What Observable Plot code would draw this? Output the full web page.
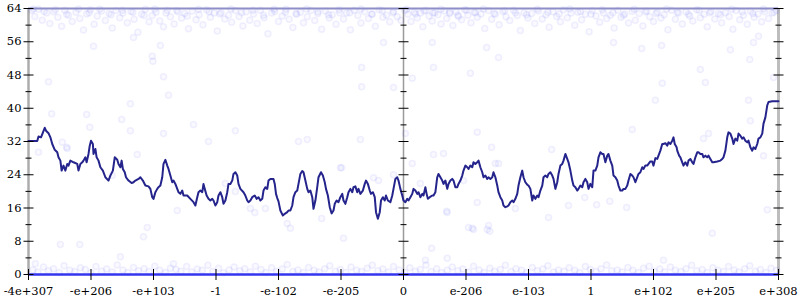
<!DOCTYPE html>
<html>
<head>
<meta charset="utf-8">
<script src="https://cdn.jsdelivr.net/npm/d3@7"></script>
<script src="https://cdn.jsdelivr.net/npm/@observablehq/plot@0.6"></script>
<style>
  html, body { margin: 0; padding: 0; background: #fff; }
  #chart svg { display: block; }
  #chart svg text { font-family: "DejaVu Serif", "Liberation Serif", serif !important; }
</style>
</head>
<body>
<div id="chart"></div>
<script>
// ---- tick labels ----
const xTickPos = [-6, -5, -4, -3, -2, -1, 0, 1, 2, 3, 4, 5, 6];
const xTickLabels = ["-4e+307", "-e+206", "-e+103", "-1", "-e-102", "-e-205", "0", "e-206", "e-103", "1", "e+102", "e+205", "e+308"];
const yMajor = [0, 8, 16, 24, 32, 40, 48, 56, 64];
const yMinor = [4, 12, 20, 28, 36, 44, 52, 60];
const axisAt = [-6, 0, 6];

// ---- running line ----
const walkX = [-6.00,-5.86,-5.84,-5.80,-5.74,-5.72,-5.68,-5.65,-5.62,-5.58,-5.54,-5.52,-5.49,-5.47,-5.44,-5.41,-5.38,-5.36,-5.33,-5.28,-5.22,-5.20,-5.17,-5.14,-5.12,-5.09,-5.07,-5.04,-5.02,-5.00,-4.97,-4.96,-4.93,-4.91,-4.88,-4.85,-4.81,-4.77,-4.72,-4.69,-4.65,-4.62,-4.58,-4.56,-4.53,-4.51,-4.49,-4.46,-4.44,-4.40,-4.35,-4.32,-4.29,-4.24,-4.21,-4.17,-4.13,-4.08,-4.05,-4.02,-4.00,
-3.97,-3.94,-3.92,-3.89,-3.86,-3.84,-3.81,-3.78,-3.76,-3.73,-3.70,-3.68,-3.65,-3.62,-3.60,-3.57,-3.54,-3.52,-3.46,-3.41,-3.36,-3.33,-3.30,-3.28,-3.25,-3.22,-3.20,-3.18,-3.15,-3.12,-3.09,-3.06,-3.04,-3.01,-2.98,-2.96,-2.93,-2.90,-2.88,-2.85,-2.82,-2.80,-2.77,-2.74,-2.72,-2.69,-2.66,-2.64,-2.61,-2.56,-2.53,-2.50,-2.48,-2.45,-2.42,-2.38,-2.35,-2.32,-2.29,-2.26,-2.24,-2.21,-2.18,-2.16,-2.13,-2.08,-2.06,-2.04,-2.02,-2.00,
-1.97,-1.93,-1.90,-1.86,-1.84,-1.81,-1.78,-1.76,-1.73,-1.70,-1.68,-1.65,-1.62,-1.60,-1.57,-1.54,-1.52,-1.49,-1.46,-1.44,-1.41,-1.38,-1.36,-1.32,-1.29,-1.26,-1.24,-1.21,-1.18,-1.15,-1.12,-1.10,-1.07,-1.04,-1.01,-0.98,-0.96,-0.93,-0.90,-0.88,-0.85,-0.82,-0.80,-0.77,-0.74,-0.72,-0.69,-0.65,-0.62,-0.60,-0.57,-0.54,-0.52,-0.49,-0.46,-0.44,-0.41,-0.38,-0.36,-0.33,-0.30,-0.28,-0.25,-0.21,-0.18,-0.16,-0.13,-0.10,-0.08,-0.05,-0.02,0.00,0.03,
0.06,0.08,0.11,0.14,0.16,0.19,0.22,0.24,0.27,0.30,0.32,0.35,0.37,0.39,0.42,0.46,0.48,0.51,0.54,0.56,0.59,0.62,0.64,0.67,0.70,0.72,0.75,0.78,0.80,0.83,0.86,0.88,0.91,0.94,0.96,0.99,1.02,1.04,1.07,1.10,1.12,1.15,1.18,1.20,1.23,1.26,1.28,1.31,1.34,1.36,1.39,1.42,1.44,1.47,1.50,1.52,1.55,1.58,1.60,1.63,1.66,1.68,1.71,1.74,1.76,1.79,1.82,1.84,1.87,1.90,1.92,1.95,1.98,2.00,
2.03,2.06,2.08,2.11,2.14,2.16,2.19,2.22,2.24,2.27,2.30,2.32,2.35,2.38,2.40,2.43,2.46,2.48,2.51,2.54,2.56,2.59,2.62,2.64,2.67,2.70,2.72,2.75,2.78,2.80,2.83,2.86,2.88,2.91,2.94,2.96,2.99,3.02,3.04,3.07,3.10,3.12,3.15,3.18,3.20,3.23,3.26,3.28,3.31,3.34,3.36,3.39,3.42,3.44,3.47,3.50,3.52,3.55,3.58,3.60,3.63,3.66,3.68,3.71,3.74,3.76,3.79,3.82,3.84,3.87,3.90,3.92,
3.95,3.98,4.00,4.03,4.06,4.08,4.11,4.14,4.16,4.19,4.22,4.24,4.27,4.30,4.32,4.34,4.37,4.38,4.41,4.43,4.46,4.48,4.51,4.54,4.56,4.59,4.62,4.64,4.67,4.70,4.72,4.75,4.78,4.80,4.83,4.86,4.88,4.91,4.94,4.96,5.02,5.07,5.10,5.12,5.15,5.18,5.20,5.23,5.26,5.28,5.31,5.34,5.36,5.39,5.42,5.44,5.47,5.50,5.52,5.55,5.58,5.60,5.63,5.66,5.68,5.71,5.74,5.76,5.79,5.82,5.84,5.90,6.00];
const walkY = [32.1,32.1,33.2,33.0,35.3,34.6,34.0,33.0,31.4,30.0,29.4,28.2,27.4,25.0,26.2,25.0,26.6,26.2,27.4,27.0,26.6,25.0,26.6,27.0,27.4,28.2,27.0,29.0,31.0,32.2,31.4,29.0,30.2,28.2,27.4,25.8,25.0,23.4,22.6,23.8,25.0,28.2,27.6,26.6,25.8,27.4,25.4,24.6,23.4,22.6,22.0,22.2,22.6,23.0,23.4,22.6,21.4,21.2,20.6,18.6,18.2,
19.8,20.6,21.0,21.4,23.4,26.6,27.6,26.2,25.4,23.8,22.2,22.6,21.8,20.6,19.8,19.4,20.2,19.0,19.0,18.2,17.4,16.6,18.6,19.8,20.2,19.8,21.8,20.6,19.0,18.2,17.8,18.2,17.8,16.6,17.4,19.0,19.8,18.6,17.0,17.8,19.8,21.8,21.8,22.6,24.2,24.6,23.8,21.8,20.6,19.8,19.0,17.8,17.4,17.8,18.6,19.0,18.2,18.6,17.8,18.2,20.2,21.0,20.6,22.6,23.0,23.0,21.8,19.4,18.4,17.6,
15.4,14.2,14.6,15.0,15.4,15.4,16.6,18.6,19.8,20.2,21.8,24.2,24.9,24.6,22.6,20.6,19.8,20.2,18.6,15.8,17.8,21.0,23.4,24.6,23.8,22.2,20.6,19.0,16.2,14.7,15.4,17.0,17.8,17.4,18.6,19.4,17.8,17.0,18.6,19.8,20.6,19.8,21.0,21.2,19.8,20.6,19.4,20.2,21.8,22.6,21.8,20.2,19.4,19.8,18.6,15.0,13.4,15.0,17.8,18.6,17.8,19.0,17.8,17.4,19.0,20.6,23.0,23.4,22.6,20.6,19.0,17.8,17.4,
18.2,17.8,18.6,19.4,20.6,20.2,19.4,19.8,18.6,19.4,19.0,21.0,19.4,18.2,18.6,19.0,19.0,19.8,23.4,24.2,23.4,22.6,21.8,22.6,20.6,21.8,22.6,23.0,22.6,21.0,21.0,21.8,22.6,23.8,25.0,26.2,25.8,25.4,26.2,25.8,27.0,26.6,27.0,27.4,25.8,24.6,23.4,23.8,23.0,23.4,23.0,23.4,24.6,23.4,21.4,19.8,18.6,17.8,16.6,16.2,16.4,16.6,17.4,17.8,17.4,18.2,19.4,21.4,23.4,25.0,23.4,22.2,21.6,21.4,
20.6,17.8,19.0,18.2,19.0,18.6,20.2,21.4,23.4,23.8,23.4,24.2,24.6,23.8,23.0,20.6,22.2,24.2,26.2,26.6,27.4,29.0,27.8,27.0,25.0,22.6,21.4,21.0,20.2,20.6,21.4,21.0,22.2,23.0,22.2,20.6,21.8,21.0,25.0,25.0,26.2,28.2,29.4,29.0,29.0,27.0,28.6,29.0,27.4,26.2,23.8,23.4,22.6,21.4,20.2,20.2,20.6,20.6,21.4,22.6,24.2,23.8,23.4,22.2,23.4,24.2,24.6,25.8,25.4,26.2,26.2,26.6,
27.2,27.2,26.2,28.0,27.8,28.6,29.8,31.4,31.4,31.6,31.0,31.8,31.4,32.2,33.0,31.4,30.6,29.8,28.6,28.2,27.0,26.2,27.0,26.2,27.4,27.8,27.0,26.6,28.2,29.4,29.4,29.0,29.0,28.2,28.6,28.2,28.6,27.8,27.0,27.0,27.2,27.4,27.8,28.2,29.8,33.0,34.2,33.9,32.7,31.4,32.7,32.2,33.9,33.4,32.7,33.0,32.2,31.8,32.2,30.6,29.8,30.6,30.2,31.4,32.7,33.0,33.9,36.3,37.8,40.7,41.5,41.7,41.7];

// ---- scattered samples: upper band, lower band, and sparse middle ----
const upperBand = [[-5.95,63.5],[-5.9,62.1],[-5.84,63.8],[-5.78,61.2],[-5.71,62.9],[-5.66,60.4],[-5.6,63.2],[-5.53,61.9],[-5.47,59.7],[-5.42,63.6],[-5.36,62.4],[-5.3,60.9],[-5.24,63.1],[-5.18,61.6],[-5.12,58.8],[-5.07,62.7],[-5.01,63.7],[-4.95,60.2],[-4.9,62.2],[-4.83,63.4],[-4.77,61.1],[-4.71,62.8],[-4.66,59.3],[-4.6,63.5],[-4.54,61.8],[-4.49,62.9],[-4.42,60.6],[-4.36,63.3],[-4.31,61.4],[-4.25,58.3],[-4.19,62.6],[-4.13,63.8],[-4.07,60.8],[-4.02,62.3],[-3.96,63.1],[-3.9,61.0],[-3.84,59.6],[-3.78,63.6],[-3.73,62.0],[-3.67,60.3],[-3.61,63.2],[-3.55,61.7],[-3.5,62.8],[-3.44,59.1],[-3.38,63.4],[-3.32,61.3],[-3.27,62.5],[-3.21,60.1],[-3.15,63.7],[-3.09,61.9],[-3.03,62.9],[-2.98,58.6],[-2.92,63.0],[-2.86,61.5],[-2.8,62.4],[-2.75,60.7],[-2.69,63.5],[-2.63,62.1],[-2.57,59.8],[-2.52,63.2],[-2.46,61.2],[-2.4,62.7],[-2.34,60.4],[-2.29,63.6],[-2.23,61.8],[-2.17,57.9],[-2.11,62.9],[-2.06,63.3],[-2.0,60.9],[-1.94,62.2],[-1.88,63.8],[-1.83,61.4],[-1.77,59.4],[-1.71,62.6],[-1.65,63.1],[-1.6,60.6],[-1.54,62.0],[-1.48,63.5],[-1.42,61.1],[-1.37,62.8],[-1.31,59.0],[-1.25,63.4],[-1.19,61.7],[-1.14,62.5],[-1.08,60.2],[-1.02,63.0],[-0.96,61.5],[-0.91,62.9],[-0.85,58.9],[-0.79,63.6],[-0.73,62.3],[-0.68,60.5],[-0.62,63.2],[-0.56,61.6],[-0.5,62.7],[-0.45,59.7],[-0.39,63.7],[-0.33,61.9],[-0.27,62.4],[-0.22,60.8],[-0.16,63.3],[-0.1,62.0],[-0.04,61.2],[0.02,63.5],[0.07,62.6],[0.12,60.9],[0.17,63.1],[0.22,61.8],[0.27,62.9],[0.31,59.6],[0.36,63.6],[0.41,62.2],[0.46,61.0],[0.5,63.0],[0.55,62.5],[0.6,60.3],[0.65,63.4],[0.69,61.6],[0.74,62.8],[0.79,59.9],[0.84,63.2],[0.88,62.1],[0.93,61.3],[0.98,63.7],[1.03,62.4],[1.08,60.6],[1.13,63.1],[1.18,61.9],[1.24,62.7],[1.3,59.2],[1.36,63.5],[1.41,61.4],[1.47,62.6],[1.53,60.1],[1.59,63.3],[1.64,62.0],[1.7,61.1],[1.76,63.6],[1.82,62.3],[1.87,58.7],[1.93,63.0],[1.99,61.7],[2.05,62.8],[2.1,60.4],[2.16,63.4],[2.22,61.5],[2.28,62.5],[2.33,59.5],[2.39,63.2],[2.45,62.1],[2.51,60.8],[2.56,63.7],[2.62,61.8],[2.68,62.9],[2.74,60.0],[2.79,63.1],[2.85,61.3],[2.91,62.6],[2.97,58.4],[3.02,63.5],[3.08,62.2],[3.14,60.7],[3.2,63.0],[3.25,61.6],[3.31,62.4],[3.37,59.3],[3.43,63.6],[3.48,61.9],[3.54,62.7],[3.6,60.5],[3.66,63.3],[3.71,61.2],[3.77,62.8],[3.83,59.8],[3.89,63.4],[3.94,62.0],[4.0,60.9],[4.06,63.1],[4.12,61.7],[4.17,62.5],[4.23,58.9],[4.29,63.6],[4.35,61.4],[4.4,62.9],[4.46,60.3],[4.52,63.2],[4.58,62.2],[4.63,61.0],[4.69,63.7],[4.75,61.8],[4.81,62.6],[4.86,59.6],[4.92,63.3],[4.98,61.5],[5.04,62.8],[5.09,60.6],[5.15,63.0],[5.21,62.1],[5.27,59.0],[5.32,63.5],[5.38,61.3],[5.44,62.4],[5.5,60.2],[5.55,63.4],[5.61,61.9],[5.67,62.7],[5.73,60.8],[5.78,63.2],[5.84,61.6],[5.9,62.9],[5.96,63.6]];

const upperCrest = [[-5.92,63.9],[-5.75,63.3],[-5.57,63.7],[-5.39,62.6],[-5.2,63.9],[-5.03,63.0],[-4.86,63.8],[-4.68,62.5],[-4.5,63.6],[-4.33,63.1],[-4.15,62.3],[-3.98,63.9],[-3.8,62.9],[-3.63,63.5],[-3.46,62.2],[-3.28,63.8],[-3.11,63.2],[-2.94,62.7],[-2.76,63.9],[-2.59,63.0],[-2.41,63.6],[-2.24,62.4],[-2.07,63.8],[-1.89,63.1],[-1.72,62.8],[-1.55,63.9],[-1.37,63.2],[-1.2,62.5],[-1.03,63.7],[-0.86,63.0],[-0.68,63.9],[-0.51,62.6],[-0.34,63.5],[-0.17,63.0],[0.05,63.8],[0.19,62.7],[0.33,63.4],[0.47,62.9],[0.6,63.8],[0.74,63.1],[0.87,62.4],[1.01,63.6],[1.15,63.0],[1.28,63.9],[1.45,62.8],[1.62,63.5],[1.79,63.0],[1.97,62.5],[2.14,63.8],[2.31,63.1],[2.49,62.7],[2.66,63.9],[2.83,63.3],[3.0,62.6],[3.18,63.7],[3.35,63.0],[3.52,62.4],[3.69,63.8],[3.87,63.2],[4.04,62.8],[4.21,63.9],[4.38,63.1],[4.56,62.6],[4.73,63.6],[4.9,63.0],[5.07,62.5],[5.25,63.8],[5.42,63.2],[5.59,62.8],[5.76,63.9],[5.93,63.1]];

const lowerBand = [[-5.93,1.1],[-5.85,0.6],[-5.76,1.8],[-5.68,0.9],[-5.6,1.4],[-5.51,0.5],[-5.43,2.1],[-5.34,1.0],[-5.26,0.7],[-5.17,1.6],[-5.09,1.2],[-5.0,0.4],[-4.92,1.9],[-4.83,0.8],[-4.75,1.3],[-4.66,0.6],[-4.58,2.3],[-4.49,1.1],[-4.41,0.5],[-4.32,1.7],[-4.24,0.9],[-4.15,1.4],[-4.07,0.7],[-3.98,2.0],[-3.9,1.0],[-3.81,0.5],[-3.73,1.5],[-3.64,1.2],[-3.56,0.8],[-3.47,1.9],[-3.39,0.6],[-3.3,1.3],[-3.22,1.0],[-3.13,2.2],[-3.05,0.7],[-2.96,1.5],[-2.88,0.4],[-2.79,1.1],[-2.71,1.8],[-2.62,0.9],[-2.54,1.4],[-2.45,0.6],[-2.37,2.0],[-2.28,1.2],[-2.2,0.5],[-2.11,1.6],[-2.03,0.8],[-1.94,1.3],[-1.86,2.4],[-1.77,0.7],[-1.69,1.1],[-1.6,0.5],[-1.52,1.7],[-1.43,1.0],[-1.35,0.6],[-1.26,1.4],[-1.18,2.1],[-1.09,0.8],[-1.01,1.2],[-0.92,0.5],[-0.84,1.8],[-0.75,1.0],[-0.67,0.7],[-0.58,1.5],[-0.5,2.2],[-0.41,0.9],[-0.33,1.3],[-0.24,0.6],[-0.16,1.9],[-0.07,1.1],[0.02,0.5],[0.1,1.6],[0.19,0.8],[0.27,1.2],[0.36,2.3],[0.44,0.7],[0.53,1.4],[0.61,0.5],[0.7,1.0],[0.78,1.8],[0.87,0.9],[0.95,1.3],[1.04,0.6],[1.12,2.0],[1.21,1.1],[1.29,0.5],[1.38,1.5],[1.46,0.8],[1.55,1.2],[1.63,2.2],[1.72,0.7],[1.8,1.4],[1.89,1.0],[1.97,0.5],[2.06,1.7],[2.14,0.9],[2.23,1.3],[2.31,2.1],[2.4,0.6],[2.48,1.1],[2.57,0.8],[2.65,1.6],[2.74,1.0],[2.82,0.5],[2.91,1.9],[2.99,1.2],[3.08,0.7],[3.16,1.4],[3.25,2.3],[3.33,0.9],[3.42,1.1],[3.5,0.6],[3.59,1.7],[3.67,1.0],[3.76,0.5],[3.84,1.5],[3.93,2.0],[4.01,0.8],[4.1,1.3],[4.18,0.6],[4.27,1.8],[4.35,1.0],[4.44,0.7],[4.52,1.4],[4.61,2.2],[4.69,0.9],[4.78,1.2],[4.86,0.5],[4.95,1.6],[5.03,1.0],[5.12,0.7],[5.2,1.9],[5.29,1.1],[5.37,0.6],[5.46,1.4],[5.54,2.1],[5.63,0.8],[5.71,1.2],[5.8,0.5],[5.88,1.5],[5.97,1.0]];

const middle = [[-5.68,46.4],[-5.63,38.7],[-5.07,38.5],[-5.02,35.4],[-4.96,54.9],[-4.02,52.5],[-4.01,51.3],[-3.84,47.6],[-3.76,43.1],[-4.37,41.1],[-4.51,37.3],[-4.37,34.6],[-3.84,33.9],[-3.36,36.1],[-5.39,30.6],[-3.89,55.1],[-4.32,57.0],[-5.84,29.4],[-5.49,7.2],[-5.18,7.2],[-4.53,4.3],[-4.16,9.1],[-4.1,11.3],[-3.62,15.4],[-3.68,2.6],[-5.89,2.6],[-4.26,28.9],[-1.01,25.7],[-1.31,13.5],[-0.96,8.7],[-0.4,22.6],[0.35,3.4],[0.45,6.3],[0.7,3.9],[0.7,14.9],[1.04,11.3],[1.12,10.8],[1.18,17.3],[1.36,11.8],[1.38,10.4],[1.47,26.7],[0.48,28.9],[0.64,29.1],[0.14,26.7],[3.3,17.6],[3.57,16.1],[4.94,9.9],[5.82,15.6],[4.16,3.4],[5.76,28.6],[4.75,49.3],[4.83,46.2],[4.14,46.0],[4.03,41.9],[3.66,34.9],[5.52,41.9],[5.54,51.7],[5.92,47.4],[5.23,54.1],[3.81,54.4],[3.36,55.8],[4.88,33.9],[4.8,32.7],[5.6,55.8],[4.13,55.1],[5.68,57.3],[-5.46,31.8],[-5.38,30.3],[-4.66,23.8],[-3.12,32.0],[-2.69,34.6],[-2.85,21.9],[-2.69,20.0],[-2.45,15.9],[-2.38,14.9],[-2.21,15.9],[-1.68,32.0],[-1.54,32.5],[-0.69,32.5],[-0.99,25.7],[-0.48,23.3],[-0.16,24.0],[-1.86,12.3],[-1.81,11.1],[0.03,33.9],[1.18,34.2],[1.41,30.6],[1.52,26.7],[0.27,21.9],[0.96,22.6],[0.69,15.2],[1.79,15.9],[1.1,11.1],[1.34,10.8],[2.37,30.1],[2.9,18.5],[2.64,16.6],[3.09,16.8],[2.32,13.7],[5.55,37.0],[-0.67,49.8],[-0.67,45.2],[-0.16,45.0],[0.14,47.2],[0.48,49.8],[1.07,48.4],[1.33,54.6],[1.52,52.2],[-0.32,55.8],[0.46,55.8]];

// ---- build tables ----
const walk = walkX.map((x, i) => ({x, y: walkY[i]}));
const samples = [...upperBand, ...upperCrest, ...lowerBand, ...middle].map(([x, y]) => ({x, y}));
const majorTicks = axisAt.flatMap(x => yMajor.map(y => ({x, y})));
const minorTicks = axisAt.flatMap(x => yMinor.map(y => ({x, y})));
const bottomTicks = xTickPos.map(x => ({x, y: 0}));

const hDash = w => ({draw(ctx) { ctx.moveTo(-w, 0); ctx.lineTo(w, 0); }});
const vDash = h => ({draw(ctx) { ctx.moveTo(0, -h); ctx.lineTo(0, h); }});

const blue = "#3535f0";
const serif = "DejaVu Serif";

const chart = Plot.plot({
  width: 800,
  height: 300,
  marginLeft: 28,
  marginRight: 22,
  marginTop: 8,
  marginBottom: 26,
  style: {fontFamily: serif, fontSize: "11.5px", background: "#fff", color: "#000"},
  x: {domain: [-6, 6]},
  y: {domain: [0, 64]},
  marks: [
    Plot.ruleX([axisAt[0]], {y1: 0, y2: 64, stroke: "#acacac", strokeWidth: 2.5}),
    Plot.ruleX([axisAt[1]], {y1: 0, y2: 64, stroke: "#9a9a9a", strokeWidth: 1.5}),
    Plot.ruleX([axisAt[2]], {y1: 0, y2: 64, stroke: "#bdbdbd", strokeWidth: 3}),
    Plot.dot(samples, {x: "x", y: "y", r: 3, fill: blue, fillOpacity: 0.03, stroke: blue, strokeOpacity: 0.07}),
    Plot.ruleY([64], {stroke: "#8e8ec8", strokeWidth: 2}),
    Plot.ruleY([0], {stroke: blue, strokeWidth: 2.5}),
    Plot.line(walk, {x: "x", y: "y", stroke: "#24248c", strokeWidth: 2, curve: "linear"}),
    Plot.dot(majorTicks, {x: "x", y: "y", symbol: hDash(5), fill: "none", stroke: "#000", strokeWidth: 1}),
    Plot.dot(minorTicks, {x: "x", y: "y", symbol: hDash(3), fill: "none", stroke: "#000", strokeWidth: 1}),
    Plot.dot(bottomTicks, {x: "x", y: "y", symbol: vDash(5.5), fill: "none", stroke: "#000", strokeWidth: 1}),
    Plot.axisY({ticks: yMajor, tickSize: 0, tickPadding: 7, tickFormat: d => String(d), label: null, fontFamily: serif, fontSize: 11.5}),
    Plot.axisX({ticks: xTickPos, tickSize: 0, tickPadding: 12, tickFormat: d => xTickLabels[xTickPos.indexOf(d)], label: null, fontFamily: serif, fontSize: 11.5})
  ]
});
document.getElementById("chart").appendChild(chart);
</script>
</body>
</html>
